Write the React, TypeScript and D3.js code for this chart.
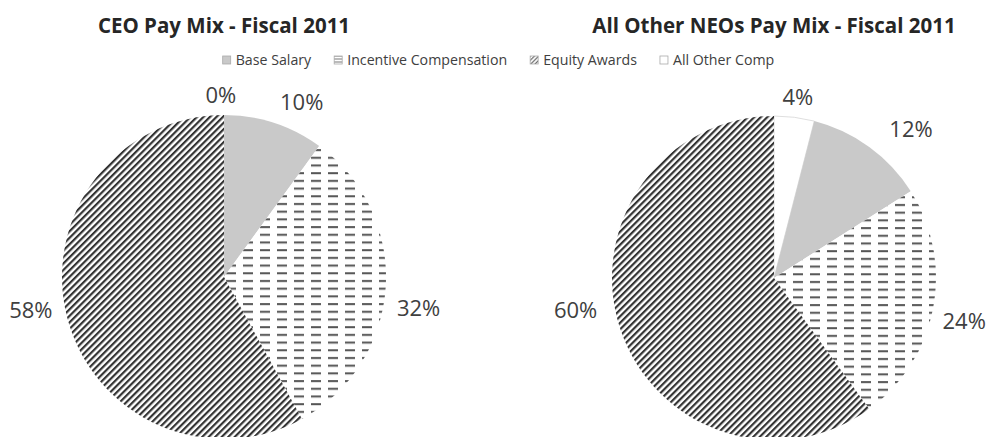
import React, { useEffect, useRef } from 'react';
import * as d3 from 'd3';

// ---- data ----
const categories = ['Base Salary', 'Incentive Compensation', 'Equity Awards', 'All Other Comp'];
const ceoValues = [10, 32, 58, 0];
const neoValues = [12, 24, 60, 4];
const chartTitles = ['CEO Pay Mix - Fiscal 2011', 'All Other NEOs Pay Mix - Fiscal 2011'];

// ---- layout ----
const W = 988;
const H = 437;
const sliceOrder = [3, 0, 1, 2]; // drawing order clockwise from 12 o'clock
const FONT = "'Open Sans', 'DejaVu Sans', sans-serif";
const pieLayouts = [
  { cx: 224, cy: 277, r: 162, labelShift: [-1, 6, 5.4, 4.7], labelDist: [182, 191, 197, 196] },
  { cx: 774, cy: 278, r: 162, labelShift: [0.3, 6.7, 2, 8.8], labelDist: [183, 202, 195, 201] },
];
const fills = ['#c9c9c9', 'url(#pat-dash)', 'url(#pat-diag)', '#ffffff'];
const legendFills = ['#c9c9c9', 'url(#pat-dash-sm)', 'url(#pat-diag-sm)', '#ffffff'];

export default function App() {
  const ref = useRef<SVGSVGElement>(null);

  useEffect(() => {
    const svg = d3.select(ref.current);
    svg.selectAll('*').remove();

    const defs = svg.append('defs');
    const dash = defs.append('pattern').attr('id', 'pat-dash').attr('patternUnits', 'userSpaceOnUse')
      .attr('width', 17).attr('height', 7.7).attr('x', 2).attr('y', 0);
    dash.append('rect').attr('width', 17).attr('height', 7.7).attr('fill', '#fff');
    dash.append('rect').attr('x', 0).attr('y', 3).attr('width', 10).attr('height', 2).attr('fill', '#555');

    const diag = defs.append('pattern').attr('id', 'pat-diag').attr('patternUnits', 'userSpaceOnUse')
      .attr('width', 4.6).attr('height', 4.6).attr('patternTransform', 'rotate(45)');
    diag.append('rect').attr('width', 4.6).attr('height', 4.6).attr('fill', '#fff');
    diag.append('rect').attr('width', 2.2).attr('height', 4.6).attr('fill', '#333');

    const dashSm = defs.append('pattern').attr('id', 'pat-dash-sm').attr('patternUnits', 'userSpaceOnUse')
      .attr('width', 8).attr('height', 3).attr('y', 0.5);
    dashSm.append('rect').attr('width', 8).attr('height', 3).attr('fill', '#fff');
    dashSm.append('rect').attr('y', 1).attr('width', 8).attr('height', 1).attr('fill', '#777');

    const diagSm = defs.append('pattern').attr('id', 'pat-diag-sm').attr('patternUnits', 'userSpaceOnUse')
      .attr('width', 3).attr('height', 3).attr('patternTransform', 'rotate(45)');
    diagSm.append('rect').attr('width', 3).attr('height', 3).attr('fill', '#fff');
    diagSm.append('rect').attr('width', 1.2).attr('height', 3).attr('fill', '#666');

    svg.append('rect').attr('width', W).attr('height', H).attr('fill', '#fff');

    const datasets = [ceoValues, neoValues];
    const pie = d3.pie<number>().sort(null).value((d) => d);

    datasets.forEach((values, pi) => {
      const L = pieLayouts[pi];
      const g = svg.append('g').attr('transform', `translate(${L.cx},${L.cy})`);
      const ordered = sliceOrder.map((i) => values[i]);
      const arcs = pie(ordered);
      const arc = d3.arc<d3.PieArcDatum<number>>().innerRadius(0).outerRadius(L.r);

      g.selectAll('path.slice')
        .data(arcs.filter((a) => a.value > 0))
        .enter()
        .append('path')
        .attr('class', 'slice')
        .attr('d', arc)
        .attr('fill', (a) => fills[sliceOrder[a.index]])
        .attr('stroke', (a) => (sliceOrder[a.index] === 3 ? '#d6d6d6' : 'none'))
        .attr('stroke-width', 0.8);

      g.selectAll('text.lbl')
        .data(arcs)
        .enter()
        .append('text')
        .attr('class', 'lbl')
        .attr('x', (a) => {
          const ang = (a.startAngle + a.endAngle) / 2 + (L.labelShift[a.index] * Math.PI) / 180;
          return L.labelDist[a.index] * Math.sin(ang);
        })
        .attr('y', (a) => {
          const ang = (a.startAngle + a.endAngle) / 2 + (L.labelShift[a.index] * Math.PI) / 180;
          return -L.labelDist[a.index] * Math.cos(ang);
        })
        .attr('dy', '0.36em')
        .attr('text-anchor', 'middle')
        .attr('font-family', FONT)
        .attr('font-size', 22)
        .attr('fill', '#404040')
        .text((a) => `${a.value}%`);

      svg.append('text')
        .attr('x', L.cx)
        .attr('y', 33)
        .attr('text-anchor', 'middle')
        .attr('font-family', FONT)
        .attr('font-weight', 'bold')
        .attr('font-size', 20.5)
        .attr('fill', '#262626')
        .text(chartTitles[pi]);
    });

    // legend
    const lg = svg.append('g');
    const sw = 8, gapText = 5, gapItem = 23, ly = 60;
    const items = categories.map((c, i) => {
      const ig = lg.append('g');
      const t = ig.append('text')
        .attr('font-family', FONT).attr('font-size', 14.2).attr('fill', '#404040')
        .attr('dy', '0.36em').attr('y', ly).text(c);
      return { ig, t, w: (t.node() as SVGTextElement).getComputedTextLength(), i };
    });
    const total = items.reduce((s, it) => s + sw + gapText + it.w, 0) + gapItem * (items.length - 1);
    let x = 498.5 - total / 2;
    items.forEach((it) => {
      it.ig.insert('rect', 'text')
        .attr('x', x).attr('y', ly - sw / 2).attr('width', sw).attr('height', sw)
        .attr('fill', legendFills[it.i]).attr('stroke', '#aaa').attr('stroke-width', 0.8);
      it.t.attr('x', x + sw + gapText);
      x += sw + gapText + it.w + gapItem;
    });
  }, []);

  return (
    <svg
      ref={ref}
      width={W}
      height={H}
      style={{ position: 'absolute', left: 0, top: 0, display: 'block' }}
    />
  );
}
